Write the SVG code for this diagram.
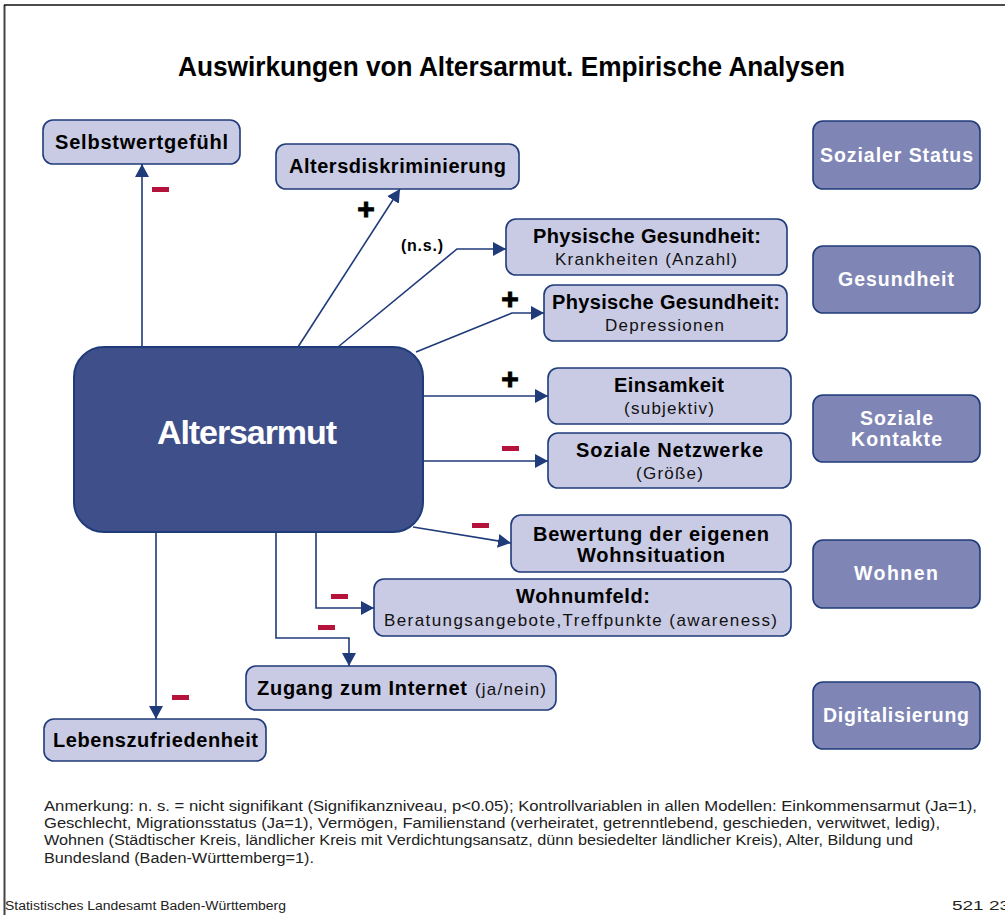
<svg xmlns="http://www.w3.org/2000/svg" width="1005" height="915" viewBox="0 0 1005 915">
<style>
text{font-family:"Liberation Sans",Arial,sans-serif}
.nb{fill:#c9cae3;stroke:#1f3b7a;stroke-width:1.6}
.cat{fill:#7f86b5;stroke:#1f3b7a;stroke-width:1.6}
.b{font-weight:bold;font-size:20px;fill:#000}
.r{font-size:17px;fill:#111}
.ct{font-weight:bold;font-size:19.5px;fill:#fff}
.c{fill:none;stroke:#1f3b7a;stroke-width:1.6}
.m{fill:#b5133c}
.p{font-weight:bold;font-size:30px;fill:#000;stroke:#000;stroke-width:1}
.fn{font-size:14px;fill:#222}
</style>
<defs>
<marker id="ah" markerUnits="userSpaceOnUse" markerWidth="14" markerHeight="14" refX="13" refY="7" orient="auto">
<path d="M0,0 L13,7 L0,14 z" fill="#1f3b7a"/>
</marker>
</defs>
<rect x="0" y="0" width="1005" height="915" fill="#fff"/>
<g id="frame">
<line x1="4.5" y1="5" x2="4.5" y2="915" stroke="#444" stroke-width="2"/>
<line x1="4" y1="5" x2="1005" y2="5" stroke="#111" stroke-width="1.6"/>
</g>
<text id="title" x="511.5" y="76" text-anchor="middle" font-weight="bold" font-size="27" textLength="667" lengthAdjust="spacingAndGlyphs">Auswirkungen von Altersarmut. Empirische Analysen</text>

<g id="connectors">
<path class="c" d="M142,347 V164" marker-end="url(#ah)"/>
<path class="c" d="M298,347 L400,189" marker-end="url(#ah)"/>
<path class="c" d="M338,347 L457,249 H506" marker-end="url(#ah)"/>
<path class="c" d="M416,352 L512,313 H544" marker-end="url(#ah)"/>
<path class="c" d="M423,396 H548" marker-end="url(#ah)"/>
<path class="c" d="M423,461 H548" marker-end="url(#ah)"/>
<path class="c" d="M413,527 L511,543" marker-end="url(#ah)"/>
<path class="c" d="M316,532 V608 H374" marker-end="url(#ah)"/>
<path class="c" d="M276,532 V638 H349 V666" marker-end="url(#ah)"/>
<path class="c" d="M156,532 V719" marker-end="url(#ah)"/>
</g>
<g id="signs">
<rect class="m" x="152" y="187" width="17" height="5"/>
<rect class="m" x="502" y="446" width="17" height="5"/>
<rect class="m" x="472" y="523" width="17" height="5"/>
<rect class="m" x="331" y="594" width="17" height="5"/>
<rect class="m" x="318" y="625" width="17" height="5"/>
<rect class="m" x="172" y="695" width="17" height="5"/>
<text class="p" x="366" y="219" text-anchor="middle">+</text>
<text class="p" x="510" y="309" text-anchor="middle">+</text>
<text class="p" x="510" y="389" text-anchor="middle">+</text>
<text x="422" y="251" text-anchor="middle" font-weight="bold" font-size="16" textLength="42">(n.s.)</text>
</g>

<g id="altersarmut">
<rect x="74" y="347" width="349" height="185" rx="30" fill="#3f4f8a" stroke="#1f3b7a" stroke-width="2"/>
<text x="247" y="444" text-anchor="middle" font-weight="bold" font-size="34" fill="#fff" textLength="180">Altersarmut</text>
</g>

<g id="selbstwertgefuehl">
<rect class="nb" x="43" y="120" width="197" height="44" rx="10"/>
<text class="b" x="141.5" y="149" text-anchor="middle" textLength="173">Selbstwertgefühl</text>
</g>
<g id="altersdiskriminierung">
<rect class="nb" x="276" y="144" width="243" height="45" rx="10"/>
<text class="b" x="397.5" y="173" text-anchor="middle" textLength="217">Altersdiskriminierung</text>
</g>
<g id="krankheiten">
<rect class="nb" x="506" y="219" width="281" height="56" rx="10"/>
<text class="b" x="647" y="243" text-anchor="middle" textLength="228">Physische Gesundheit:</text>
<text class="r" x="646" y="265" text-anchor="middle" textLength="182">Krankheiten (Anzahl)</text>
</g>
<g id="depressionen">
<rect class="nb" x="544" y="285" width="243" height="56" rx="10"/>
<text class="b" x="666" y="309" text-anchor="middle" textLength="228">Physische Gesundheit:</text>
<text class="r" x="664.5" y="331" text-anchor="middle" textLength="119">Depressionen</text>
</g>
<g id="einsamkeit">
<rect class="nb" x="548" y="368" width="243" height="56" rx="10"/>
<text class="b" x="669" y="392" text-anchor="middle" textLength="110">Einsamkeit</text>
<text class="r" x="669" y="414" text-anchor="middle" textLength="90">(subjektiv)</text>
</g>
<g id="netzwerke">
<rect class="nb" x="548" y="433" width="243" height="55" rx="10"/>
<text class="b" x="669.5" y="457" text-anchor="middle" textLength="187">Soziale Netzwerke</text>
<text class="r" x="669.5" y="479" text-anchor="middle" textLength="67">(Größe)</text>
</g>
<g id="bewertung">
<rect class="nb" x="511" y="515" width="280" height="57" rx="10"/>
<text class="b" x="651" y="541" text-anchor="middle" textLength="236">Bewertung der eigenen</text>
<text class="b" x="651" y="562" text-anchor="middle" textLength="148">Wohnsituation</text>
</g>
<g id="wohnumfeld">
<rect class="nb" x="374" y="579" width="417" height="57" rx="10"/>
<text class="b" x="583" y="603" text-anchor="middle" textLength="134">Wohnumfeld:</text>
<text class="r" x="580.5" y="626" text-anchor="middle" textLength="393">Beratungsangebote,Treffpunkte (awareness)</text>
</g>
<g id="zugang">
<rect class="nb" x="246" y="666" width="310" height="44" rx="10"/>
<text x="257" y="695"><tspan class="b" textLength="210">Zugang zum Internet</tspan><tspan class="r" x="475" textLength="71">(ja/nein)</tspan></text>
</g>
<g id="lebenszufriedenheit">
<rect class="nb" x="44" y="719" width="222" height="42" rx="10"/>
<text class="b" x="155.5" y="747" text-anchor="middle" textLength="205">Lebenszufriedenheit</text>
</g>

<g id="cat-sozialer-status">
<rect class="cat" x="813" y="121" width="167" height="68" rx="10"/>
<text class="ct" x="896.5" y="162" text-anchor="middle" textLength="153">Sozialer Status</text>
</g>
<g id="cat-gesundheit">
<rect class="cat" x="813" y="246" width="167" height="67" rx="10"/>
<text class="ct" x="896" y="286" text-anchor="middle" textLength="116">Gesundheit</text>
</g>
<g id="cat-soziale-kontakte">
<rect class="cat" x="813" y="395" width="167" height="67" rx="10"/>
<text class="ct" x="896.5" y="425" text-anchor="middle" textLength="73">Soziale</text>
<text class="ct" x="896.5" y="446" text-anchor="middle" textLength="91">Kontakte</text>
</g>
<g id="cat-wohnen">
<rect class="cat" x="813" y="540" width="167" height="68" rx="10"/>
<text class="ct" x="896" y="580" text-anchor="middle" textLength="84">Wohnen</text>
</g>
<g id="cat-digitalisierung">
<rect class="cat" x="813" y="682" width="167" height="67" rx="10"/>
<text class="ct" x="896" y="722" text-anchor="middle" textLength="146">Digitalisierung</text>
</g>

<g id="footnote">
<text class="fn" x="44" y="811" textLength="933" lengthAdjust="spacingAndGlyphs">Anmerkung: n. s. = nicht signifikant  (Signifikanzniveau, p&lt;0.05); Kontrollvariablen in allen Modellen: Einkommensarmut (Ja=1),</text>
<text class="fn" x="44" y="828" textLength="896" lengthAdjust="spacingAndGlyphs">Geschlecht, Migrationsstatus (Ja=1), Vermögen, Familienstand (verheiratet, getrenntlebend, geschieden, verwitwet, ledig),</text>
<text class="fn" x="44" y="845" textLength="869" lengthAdjust="spacingAndGlyphs">Wohnen (Städtischer Kreis, ländlicher Kreis mit Verdichtungsansatz, dünn besiedelter ländlicher Kreis), Alter, Bildung und</text>
<text class="fn" x="44" y="863" textLength="270" lengthAdjust="spacingAndGlyphs">Bundesland (Baden-Württemberg=1).</text>
<text x="5" y="910" font-size="12" fill="#222" textLength="281" lengthAdjust="spacingAndGlyphs">Statistisches Landesamt Baden-Württemberg</text>
<text x="952" y="910" font-size="12" fill="#222" textLength="58" lengthAdjust="spacingAndGlyphs">521 23</text>
</g>
</svg>
